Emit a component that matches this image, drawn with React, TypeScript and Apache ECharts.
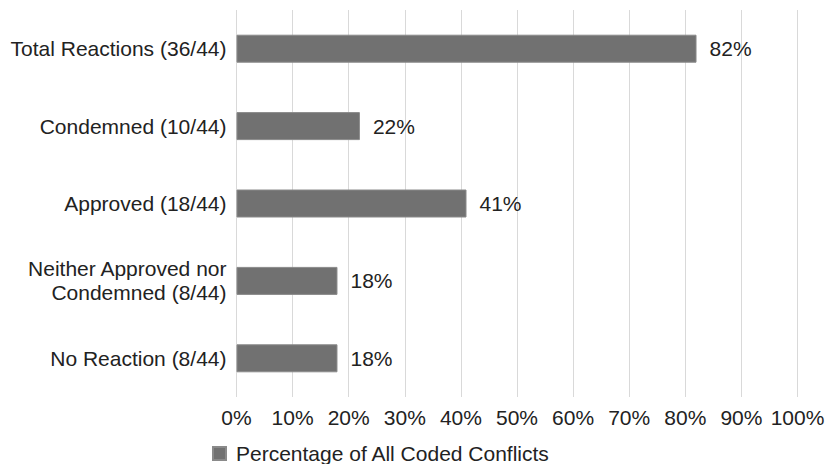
import React, { useEffect, useRef } from "react";
import * as echarts from "echarts";

const categories = [
  "Total Reactions (36/44)",
  "Condemned (10/44)",
  "Approved (18/44)",
  "Neither Approved nor\nCondemned (8/44)",
  "No Reaction (8/44)",
];
const values = [82, 22, 41, 18, 18];
const seriesName = "Percentage of All Coded Conflicts";

export default function App() {
  const ref = useRef<HTMLDivElement>(null);
  useEffect(() => {
    if (!ref.current) return;
    const chart = echarts.init(ref.current, null, { renderer: "svg" });
    const font = "Liberation Sans, Arial, Helvetica, sans-serif";
    chart.setOption({
      animation: false,
      textStyle: { fontFamily: font },
      grid: { left: 236.5, right: 30.5, top: 10, bottom: 67, containLabel: false },
      legend: {
        data: [seriesName],
        left: 207,
        bottom: 0,
        padding: [0, 5, 0, 5],
        icon: "rect",
        itemWidth: 13,
        itemHeight: 13,
        itemGap: 10,
        textStyle: { fontSize: 21, color: "#222", fontFamily: font, padding: [0, 0, 0, 5] },
      },
      xAxis: {
        type: "value",
        min: 0,
        max: 100,
        interval: 10,
        axisLine: { show: false },
        axisTick: { show: false },
        splitLine: { show: true, lineStyle: { color: "#d9d9d9", width: 1 } },
        axisLabel: {
          formatter: "{value}%",
          fontSize: 21,
          color: "#222",
          margin: 10,
          fontFamily: font,
        },
      },
      yAxis: {
        type: "category",
        data: categories,
        inverse: true,
        axisLine: { show: false },
        axisTick: { show: false },
        axisLabel: {
          fontSize: 21,
          color: "#222",
          margin: 10,
          lineHeight: 24,
          align: "right",
          fontFamily: font,
        },
      },
      series: [
        {
          name: seriesName,
          type: "bar",
          data: values,
          barWidth: 28,
          itemStyle: { color: "#717171", borderColor: "#8a8a8a", borderWidth: 1 },
          label: {
            show: true,
            position: "right",
            distance: 13,
            formatter: "{c}%",
            fontSize: 21,
            color: "#222",
            fontFamily: font,
          },
        },
      ],
    });
    return () => chart.dispose();
  }, []);
  return (
    <div
      ref={ref}
      style={{ position: "absolute", left: 0, top: 0, width: 828, height: 464 }}
    />
  );
}
